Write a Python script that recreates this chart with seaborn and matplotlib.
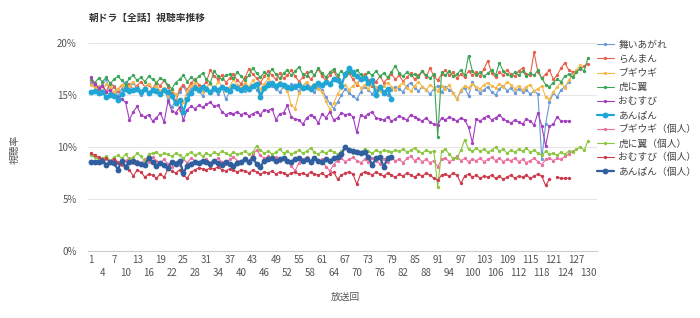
import numpy as np
import pandas as pd
import matplotlib
matplotlib.use("Agg")
import matplotlib.pyplot as plt
import seaborn as sns

nan = np.nan

title = "朝ドラ【全話】視聴率推移"
x_label = "放送回"
y_label = "視聴率"

series_names = ["舞いあがれ", "らんまん", "ブギウギ", "虎に翼", "おむすび", "あんぱん",
                "ブギウギ（個人）", "虎に翼（個人）", "おむすび（個人）", "あんぱん（個人）"]

maiagare = [16.2, 15.8, 15.4, 16.0, 16.5, 15.2, 15.9, 14.9, 15.6, 16.3,
            15.8, 16.2, 15.5, 15.0, 15.7, 16.1, 15.4, 15.9, 15.2, 15.6,
            14.6, 13.8, 14.5, 15.3, 15.9, 15.1, 15.6, 16.0, 15.4, 14.9,
            15.7, 16.2, 15.5, 15.1, 15.8, 14.6, 15.3, 15.9, 15.6, 16.1,
            15.4, 15.8, 16.0, 15.5, 15.2, 15.7, 16.3, 15.9, 15.6, 15.3,
            15.8, 15.5, 16.1, 15.7, 15.4, 15.9, 16.2, 15.6, 15.3, 15.8,
            15.5, 14.8, 14.2, 13.7, 14.3, 15.0, 15.6, 15.2, 14.9, 14.6,
            15.3, 15.8, 15.5, 15.1, 15.6, 15.9, 15.4, 15.0, 15.5, 15.8,
            15.6, 15.3, 15.9, 16.2, 15.7, 15.4, 15.8, 15.5, 15.1, 15.6,
            15.9, 15.3, 15.8, 15.5, 15.2, 14.6, 15.4, 15.7, 14.9, 16.3,
            15.6, 15.2, 15.5, 15.8, 15.3, 15.0, 15.6, 15.9, 15.4, 15.7,
            15.2, 15.6, 15.3, 15.5, 15.1, 15.4, 15.1, 8.8, 12.2, 14.3,
            15.2, 14.8, 15.5, 15.8, 16.3, 17.2]

ranman = [16.4, 16.0, 15.6, 15.9, 15.3, 16.2, 15.8, 15.4, 16.0, 15.7,
          16.1, 15.5, 15.9, 16.3, 15.8, 16.0, 15.6, 16.2, 15.9, 16.4,
          15.8, 15.2, 14.4, 15.6, 16.0, 15.5, 16.2, 16.5, 16.0, 15.8,
          16.3, 17.4, 16.8, 16.5, 16.9, 16.2, 16.6, 17.0, 16.4, 16.1,
          16.7, 17.5, 17.0, 16.6, 16.2, 16.8, 17.3, 16.9, 16.5, 17.1,
          16.6, 16.9, 17.4, 16.8, 16.3, 16.7, 17.2, 16.5, 16.9, 17.5,
          16.8, 16.4, 16.9, 17.3, 16.6, 16.2, 16.8, 17.1, 16.5, 16.0,
          16.6, 17.0, 16.4, 15.9, 16.3, 16.8, 16.2, 16.6, 17.0, 16.5,
          16.9, 16.3, 16.7, 17.1, 16.5, 16.9, 17.3, 16.7, 17.6, 16.8,
          16.4, 17.0, 17.4, 16.9, 17.2, 16.6, 17.0, 16.7, 17.3, 16.9,
          17.2, 16.8, 17.5, 18.3, 17.1, 16.7, 17.2, 16.9, 17.4, 17.0,
          16.8, 17.3, 17.6, 17.0, 16.9, 19.1, 17.2, 16.6, 17.0, 17.4,
          16.5, 16.9, 17.6, 18.1, 17.4, 17.2, 17.3, 17.5, 17.8, 18.0]

boogie = [16.0, 15.7, 15.9, 15.4, 16.1, 15.8, 15.3, 15.6, 16.0, 15.5,
          15.9, 16.3, 15.7, 15.2, 15.8, 16.1, 15.6, 15.9, 15.4, 15.7,
          14.9, 15.5, 15.1, 13.6, 14.3, 15.4, 15.9, 16.2, 15.7, 15.3,
          15.8, 16.1, 15.6, 16.3, 15.9, 15.4, 15.8, 16.5, 16.0, 15.7,
          16.2, 15.8, 16.4, 16.0, 15.6, 16.1, 16.6, 16.2, 15.9, 16.3,
          15.8, 15.4, 14.0, 13.7, 15.2, 15.9, 16.3, 15.8, 16.1, 15.6,
          15.3, 14.4, 13.6, 14.2, 15.1, 15.7, 16.0, 15.5, 15.9, 16.2,
          15.7, 16.0, 15.6, 16.1, 15.8, 15.4, 15.9, 16.2, 15.8, 15.5,
          15.9, 16.2, 15.7, 15.4, 15.9, 16.3, 15.8, 15.5, 16.0, 15.7,
          15.4, 15.9, 15.6, 16.0, 15.2, 14.6, 15.5, 15.9, 15.7, 16.1,
          15.8, 15.6, 16.0, 16.2, 15.9, 15.7, 16.1, 15.8, 16.3, 16.0,
          15.6, 15.9, 15.5, 15.8, 16.0, 15.4, 15.6, 15.9, 14.8, 14.6,
          15.3, 15.8, 16.2, 15.7, 16.4, 16.9, 17.4, 17.9]

tora = [16.5, 16.2, 16.6, 16.3, 16.7, 16.1, 16.5, 16.8, 16.4, 16.0,
        16.6, 16.9, 16.4, 16.7, 16.3, 16.8, 16.5, 16.2, 16.6, 16.4,
        16.0, 15.6, 16.2, 16.5, 16.9, 16.3, 16.7, 16.4, 16.8, 17.1,
        16.5, 16.2, 17.3, 16.8, 16.5, 16.9, 17.0, 16.6, 17.2, 16.8,
        16.4, 16.9, 17.6, 17.1, 16.7, 17.2, 16.9, 17.5, 17.0, 16.6,
        17.1, 17.4, 16.9, 17.3, 17.7, 17.0, 16.8, 17.3, 16.9, 17.6,
        17.1, 16.7, 17.2, 17.5, 16.9, 17.3, 16.8, 17.2, 16.9, 17.4,
        17.0, 16.6, 17.2, 16.9, 17.3, 16.8, 17.1, 16.7, 17.2, 17.8,
        17.1, 16.8, 17.2, 16.9, 17.0, 16.7, 17.3, 16.9, 16.6, 17.0,
        11.0, 17.2, 16.9, 17.3, 16.8, 17.0, 17.4, 16.9, 18.8, 17.3,
        16.9, 17.2, 16.8, 17.1, 17.4, 16.9, 18.1, 17.3, 17.0, 16.8,
        17.2, 16.9, 17.3, 16.8, 17.1, 16.9, 17.4, 16.6, 16.0, 15.8,
        16.2, 16.5, 16.3, 16.8, 17.0, 16.7, 17.2, 17.6, 17.3, 18.6]

omusubi = [16.7, 16.1, 15.7, 15.9, 15.3, 15.5, 15.0, 14.8, 14.6, 14.3,
           12.6, 13.4, 13.9, 13.1, 12.9, 13.1, 12.5, 12.8, 13.3, 12.4,
           14.4, 13.5, 13.3, 13.8, 12.6, 13.6, 13.9, 13.7, 14.0, 13.8,
           14.1, 14.3, 13.9, 14.0, 13.4, 13.1, 13.3, 13.2, 13.4, 13.1,
           13.3, 13.0, 13.2, 13.4, 13.1, 13.6, 13.5, 13.7, 12.6, 13.2,
           13.3, 14.0, 12.9, 12.7, 12.6, 12.2, 12.8, 13.1, 12.9, 12.3,
           13.2, 12.8, 13.4, 12.6, 12.8, 13.3, 13.1, 13.2, 12.9, 11.4,
           13.1, 12.9, 13.2, 13.4, 12.8, 12.7, 12.6, 12.9, 12.5, 12.7,
           13.0, 12.8, 12.6, 13.1, 12.9, 12.7, 12.5, 12.8, 12.4, 12.2,
           12.1, 12.8, 12.6, 12.9, 12.7, 12.5, 12.8, 12.6, 11.9, 10.4,
           12.7, 12.5, 12.8, 13.0, 12.6, 12.8, 13.1, 12.7, 12.5, 12.3,
           12.6, 12.4, 12.2, 12.7, 12.5, 12.1, 13.3, 12.0, 10.1, 12.0,
           12.2, 12.9, 12.5, 12.5, 12.5]

anpan = [15.3, 15.4, 15.2, 15.3, 14.8, 15.0, 14.9, 14.5, 15.1, 15.6,
         15.4, 15.5, 15.6, 15.3, 15.6, 15.2, 15.5, 15.4, 15.1, 15.5,
         15.3, 14.9, 14.2, 14.5, 13.4, 14.6, 15.2, 15.7, 15.5, 15.8,
         15.6, 15.3, 15.7, 15.5, 15.8, 15.6, 15.4, 15.9, 15.7, 15.5,
         15.8, 15.6, 15.9, 16.1, 14.8, 15.7, 16.0, 16.2, 15.9, 16.1,
         16.0, 15.8, 15.7, 15.9, 16.0, 15.7, 15.8, 15.6, 15.9, 16.2,
         16.0, 16.3, 16.1, 16.5, 16.4, 15.9, 17.0, 17.6, 17.2, 16.8,
         16.5, 16.6, 16.2, 16.4, 15.0, 15.8, 15.2, 15.6, 14.6]

boogie_p = [9.3, 9.1, 8.9, 8.7, 8.8, 8.5, 8.9, 8.6, 8.3, 8.7,
            8.9, 8.5, 8.7, 8.4, 8.8, 8.6, 9.0, 8.7, 8.5, 8.8,
            8.4, 8.1, 8.6, 8.3, 8.8, 8.5, 8.9, 8.7, 8.4, 8.6,
            8.8, 8.5, 8.7, 8.9, 8.6, 8.4, 8.8, 9.0, 8.7, 8.5,
            8.9, 8.6, 9.3, 9.7, 9.2, 8.9, 9.1, 8.8, 9.0, 8.7,
            8.9, 8.6, 8.2, 7.7, 8.5, 8.8, 9.0, 8.7, 8.9, 8.6,
            8.8, 8.1, 7.7, 8.3, 8.7, 8.9, 8.6, 8.8, 9.0, 8.7,
            8.5, 8.8, 8.6, 8.9, 8.7, 8.4, 8.8, 8.6, 8.9, 8.7,
            8.8, 8.5, 8.9, 9.1, 8.7, 8.9, 8.6, 8.8, 8.5, 8.7,
            8.1, 8.8, 8.9, 8.6, 8.8, 9.1, 8.7, 8.9, 8.6, 8.8,
            8.7, 8.9, 8.6, 8.8, 9.0, 8.7, 8.9, 8.6, 8.8, 8.7,
            8.9, 8.6, 8.8, 8.5, 8.7, 8.9, 8.6, 8.3, 8.8, 8.9,
            8.7, 8.9, 8.8, 9.1, 9.3, 9.6]

tora_p = [9.2, 9.0, 8.8, 8.9, 9.1, 8.7, 9.0, 9.2, 8.9, 9.3,
          8.8, 9.0, 9.4, 9.1, 8.6, 9.3, 9.4, 9.5, 9.2, 9.4,
          9.3, 9.1, 9.4, 9.2, 8.9, 9.3, 9.5, 9.2, 9.4, 9.1,
          9.4, 9.2, 9.5, 9.3, 9.6, 9.4, 9.2, 9.5, 9.3, 9.4,
          9.6, 9.3, 9.5, 10.1, 9.7, 9.4, 9.6, 9.3, 9.5, 9.8,
          9.4, 9.6, 9.3, 9.5, 9.7, 9.4, 9.6, 9.9, 9.5, 9.3,
          9.6, 9.4, 9.7, 9.5, 9.3, 9.6, 10.0, 9.7, 9.4, 9.6,
          9.5, 9.8, 9.6, 9.4, 9.7, 9.5, 9.7, 9.6, 9.5, 9.7,
          9.6, 9.8, 9.5, 9.7, 9.9, 9.6, 9.4, 9.7, 9.5, 9.6,
          6.2, 9.6, 9.8, 9.3, 8.9, 8.9, 9.7, 10.7, 9.8, 9.6,
          9.9, 9.6, 9.8, 9.5, 9.7, 10.0, 9.6, 9.8, 9.4, 9.7,
          9.5, 9.8, 9.6, 9.9, 9.5, 9.7, 9.4, 9.2, 9.6, 9.3,
          9.4, 9.2, 9.5, 9.3, 9.6, 9.5, 9.8, 10.0, 9.7, 10.6]

omusubi_p = [9.4, 9.2, 9.0, 8.8, 8.9, 8.6, 8.8, 8.5, 8.4, 8.2,
             7.8, 7.2, 7.8, 7.6, 7.1, 7.4, 7.3, 7.0, 7.4, 7.1,
             7.9, 7.7, 7.5, 7.8, 7.3, 7.0, 7.6, 7.8, 8.0, 7.9,
             7.8, 8.0, 7.9, 8.1, 7.8, 7.7, 7.9, 7.8, 7.6, 7.8,
             7.7, 7.5, 7.8, 7.6, 7.4, 7.6, 7.5, 7.7, 7.4, 7.6,
             7.5, 7.3, 7.5, 7.6, 7.4, 7.5, 7.3, 7.6, 7.4, 7.3,
             7.5, 7.2, 7.4, 7.6, 6.9, 7.3, 7.5, 7.6, 7.4, 6.4,
             7.4, 7.6, 7.5, 7.3, 7.6, 7.4, 7.2, 7.5, 7.3, 7.1,
             7.4, 7.2, 7.5, 7.3, 7.1, 7.4, 7.2, 7.5, 7.3, 7.0,
             6.8, 7.3, 7.4, 7.2, 7.5, 7.3, 6.5, 7.2, 7.4, 7.1,
             7.3, 7.0, 7.2, 7.1, 7.3, 7.0, 7.2, 6.9, 7.1, 7.3,
             7.0, 7.2, 7.1, 7.3, 7.0, 7.2, 7.4, 7.2, 6.3, 6.9,
             nan, 7.1, 7.0, 7.0, 7.0]

anpan_p = [8.6, 8.6, 8.6, 8.7, 8.3, 8.6, 8.5, 7.8, 8.7, 8.1,
           8.6, 8.7, 8.5, 8.4, 8.3, 8.9, 8.6, 8.2, 8.5, 8.3,
           8.0, 8.6, 8.4, 8.7, 7.5, 8.2, 8.4, 8.6, 8.5, 8.7,
           8.6, 8.4, 8.7, 8.5, 8.3, 8.6, 8.4, 8.2, 8.5, 8.6,
           8.8, 8.6, 8.9, 8.4, 8.1, 8.7, 8.8, 8.9, 8.7, 8.8,
           8.9, 8.7, 8.6, 8.8, 8.9, 8.7, 8.8, 8.6, 8.9, 8.7,
           8.6, 8.8, 8.7, 8.9, 9.0, 9.3, 10.0, 9.7, 9.6, 9.5,
           9.4, 9.5, 9.0, 8.3, 8.9, 9.0, 8.1, 8.9, 9.0]

series_values = [maiagare, ranman, boogie, tora, omusubi, anpan,
                 boogie_p, tora_p, omusubi_p, anpan_p]

colors = ["#6a9ad6", "#e8604a", "#f5b94a", "#3aa655", "#a23fbf", "#1fa6d6",
          "#ea6f9e", "#8cc63f", "#cc3a4c", "#2f5f9f"]
big = {"あんぱん", "あんぱん（個人）"}

x_ticks_top = list(range(1, 131, 6))
x_ticks_bottom = list(range(4, 131, 6))
y_ticks = [0, 5, 10, 15, 20]

sns.set_theme(style="white")
plt.rcParams['font.family'] = ['Noto Sans CJK JP', 'DejaVu Sans']

fig = plt.figure(figsize=(7.0, 3.18), dpi=100)
ax = fig.add_axes([0.1257, 0.2107, 0.727, 0.654])

for name, vals, col in zip(series_names, series_values, colors):
    df = pd.DataFrame({"ep": np.arange(1, len(vals) + 1), "v": vals})
    df["seg"] = df["v"].isna().cumsum()
    df = df.dropna()
    lw = 1.6 if name in big else 0.8
    ms = 4.2 if name in big else 2.4
    first = True
    for _, sub in df.groupby("seg"):
        sns.lineplot(data=sub, x="ep", y="v", ax=ax, color=col, linewidth=lw,
                     marker="o", markersize=ms, markeredgecolor=col, markeredgewidth=0,
                     estimator=None, sort=False, label=name if first else None)
        first = False

ax.set_xlim(0.25, 132.3)
ax.set_ylim(0, 20)
ax.set_yticks(y_ticks)
ax.set_yticklabels([f"{v}%" for v in y_ticks])
ax.set_xticks(x_ticks_top)
ax.set_xticklabels([str(t) for t in x_ticks_top])
ax.set_xticks(x_ticks_bottom, minor=True)
ax.set_xticklabels([str(t) for t in x_ticks_bottom], minor=True)
ax.tick_params(axis="both", which="both", length=0, labelsize=7, colors="#555555")
ax.tick_params(axis="x", which="major", pad=3)
ax.tick_params(axis="x", which="minor", pad=12.5)
ax.tick_params(axis="y", pad=8)
for v in [5, 10, 15, 20]:
    ax.axhline(v, color="#e6e6e6", linewidth=0.8, zorder=0)
for s in ["top", "right", "left"]:
    ax.spines[s].set_visible(False)
ax.spines["bottom"].set_color("#cccccc")
ax.spines["bottom"].set_linewidth(0.8)
ax.set_xlabel("")
ax.set_ylabel("")

fig.text(0.126, 0.945, title, fontsize=7, fontweight="bold", color="#333333", va="center", ha="left")
fig.text(0.493, 0.066, x_label, fontsize=7, color="#555555", ha="center", va="center", style="italic")
fig.text(0.021, 0.53, y_label, fontsize=7, color="#555555", ha="center", va="center", rotation=90, style="italic")

ax.legend(loc="upper left", bbox_to_anchor=(0.853, 0.875), bbox_transform=fig.transFigure,
          frameon=False, fontsize=7, handlelength=1.7, handletextpad=0.5,
          labelspacing=0.42, borderaxespad=0, borderpad=0, labelcolor="#444444")

fig.savefig("out.png", dpi=100)
